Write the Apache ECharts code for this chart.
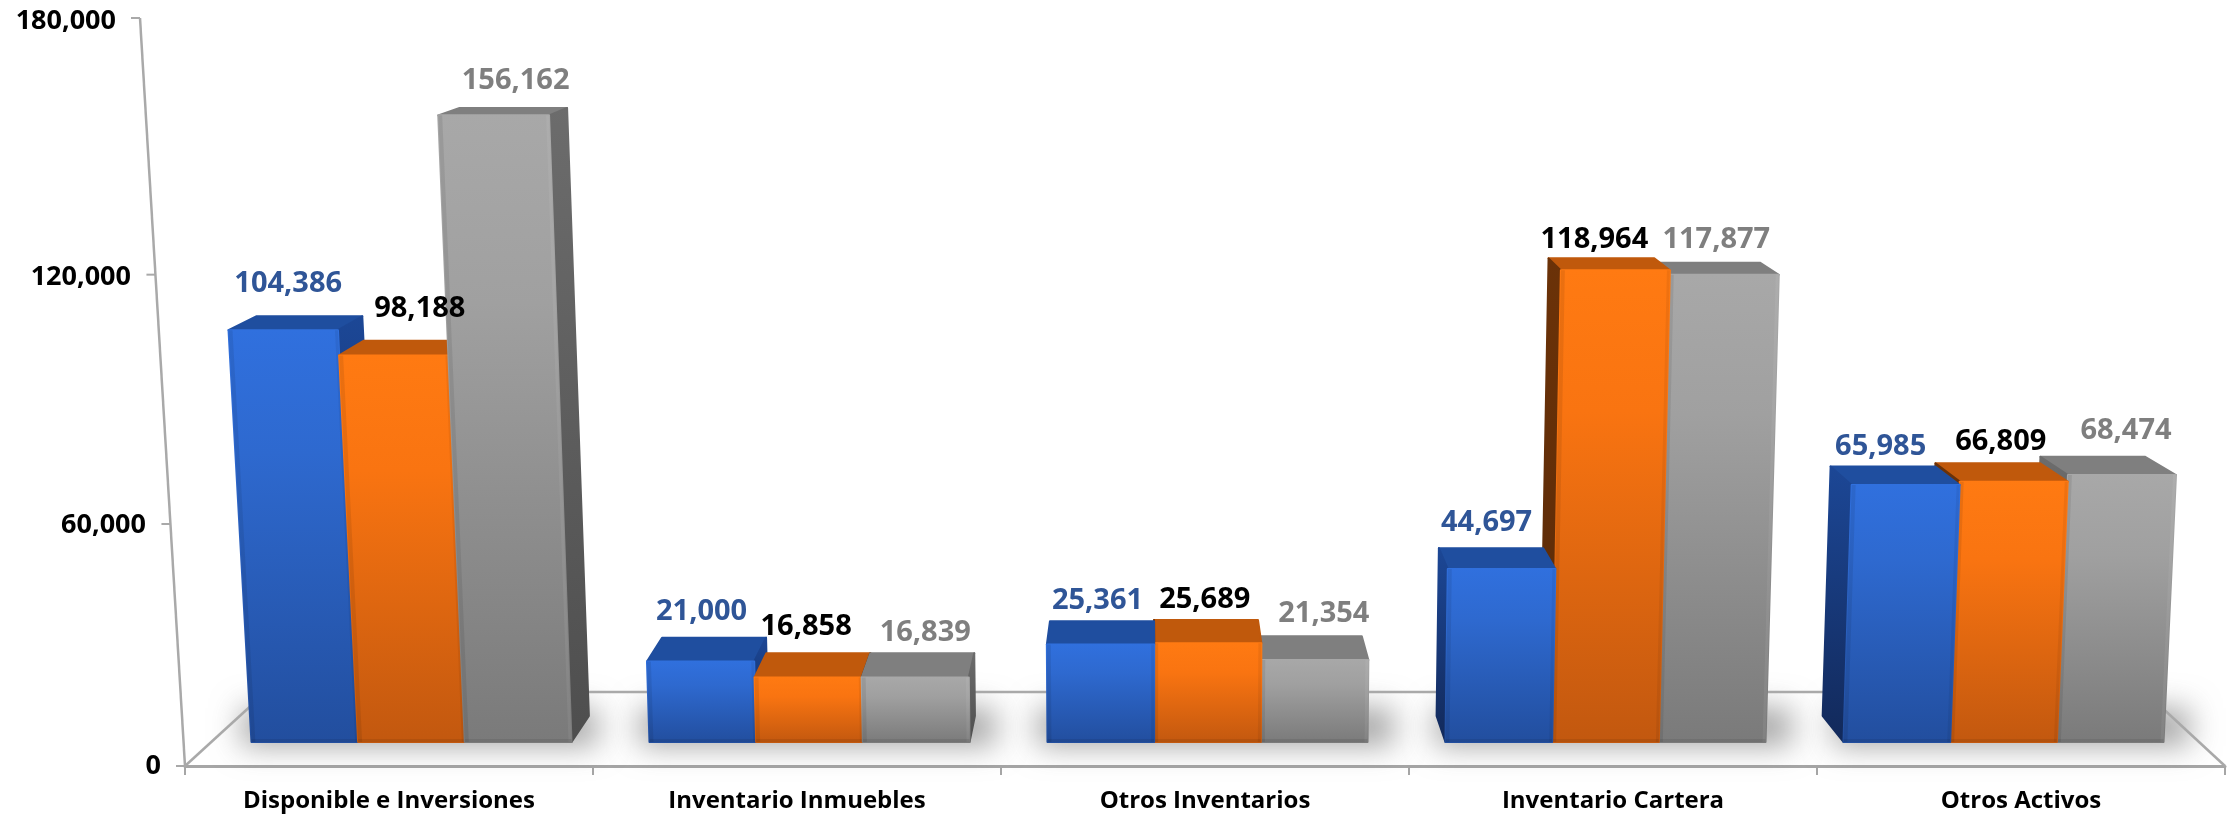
<!DOCTYPE html>
<html><head><meta charset="utf-8">
<style>html,body{margin:0;padding:0;background:#fff}#c{width:2236px;height:818px}</style>
<script src="https://cdn.jsdelivr.net/npm/echarts@6/dist/echarts.min.js"></script>
</head><body><div id="c"></div>
<script>
const categories = ['Disponible e Inversiones','Inventario Inmuebles','Otros Inventarios','Inventario Cartera','Otros Activos'];
const blueValues = [104386,21000,25361,44697,65985];
const orangeValues = [98188,16858,25689,118964,66809];
const greyValues = [156162,16839,21354,117877,68474];
const yTicks = [0,60000,120000,180000];

// perspective of the picture (px)
const FONT = '"Open Sans", "Noto Sans", sans-serif';
const XC = 1150, VY = -130, DEPTH = 0.03, LEAN_L = 6.2e-5, LEAN_R = 4.6e-5, BASE_C = 1307, BASE_F = 0.9755, BASE_UP = 24, BAR_F = 0.2615;
// hand placed data labels: offsets from the bar's front-top centre (x) and rear-top edge (y)
const labelDX = [[5,1,-3,-15,-25],[26,-2,-3,-21,-13],[22,10,9,-8,4]];
const labelDY = [[-33,-26,-21,-25,-20],[-32,-26,-20,-19,-22],[-27,-21,-23,-23,-26]];
const tickPad = {0:[0,16],60000:[18,31],120000:[20,46],180000:[6,61]};

const looks = [
 {front:['#3070DE','#2E69CF','#224E9E'],top:'#1F4E9F',side:['#1C4796','#12295A'],label:'#2F5597'},
 {front:['#FF7A12','#F97411','#C2580F'],top:'#C0590C',side:['#6B3208','#5A2A08'],label:'#000000'},
 {front:['#A8A8A8','#A0A0A0','#7A7A7A'],top:'#7F7F7F',side:['#6C6C6C','#4E4E4E'],label:'#7F7F7F'}
];
const fmt = v => Number(v).toLocaleString('en-US');
const grad = c => new echarts.graphic.LinearGradient(0,0,0,1,[{offset:0,color:c[0]},{offset:.3,color:c[1]},{offset:1,color:c[2]}]);
const grad2 = c => new echarts.graphic.LinearGradient(0,0,0,1,[{offset:0,color:c[0]},{offset:1,color:c[1]}]);

function heightOf(api, v){
  const y0 = api.coord([0,0])[1], y1 = api.coord([0,180000])[1];
  const t = (y0 - api.coord([0,v])[1])/(y0-y1);
  return t*(685.8+42.1*t);
}
function rear(p){ return [p[0]+DEPTH*(XC-p[0]), p[1]+DEPTH*(VY-p[1])]; }

function barItem(j, values){
  return function(params, api){
    const i = params.dataIndex, v = values[i];
    const cx = api.coord([i,v])[0], band = api.size([1,0])[0], w = band*BAR_F;
    const bx = BASE_C+(cx-BASE_C)*BASE_F, L = bx+(j-1.5)*w, R = L+w;
    const yb = api.coord([0,0])[1]-BASE_UP, h = heightOf(api,v);
    const at = (x,hh)=>[XC+(x-XC)*(1+(x<XC?LEAN_L:LEAN_R)*hh), yb-hh];
    const fbl=at(L,0), fbr=at(R,0), ftr=at(R,h), ftl=at(L,h);
    const z = Math.round(4000-Math.abs((L+R)/2-XC));
    const look = looks[j], kids = [];
    const poly=(pts,fill,st)=>({type:'polygon',z2:z,shape:{points:pts},
      style:st?{fill:fill,stroke:st,lineWidth:2,lineJoin:'round'}:{fill:fill}});
    const shift=(p,d)=>[p[0]+d,p[1]];
    kids.push(poly([ftl,ftr,rear(ftr),rear(ftl)],look.top,look.top));
    const sideFill=grad2(look.side);
    if(R<XC) kids.push(poly([ftr,rear(ftr),rear(fbr),fbr],sideFill,sideFill));
    if(L>XC) kids.push(poly([ftl,rear(ftl),rear(fbl),fbl],sideFill,sideFill));
    const ff=grad(look.front);
    kids.push(poly([ftl,ftr,fbr,fbl],ff,ff));
    // bevelled edges of the front face
    kids.push(poly([ftl,shift(ftl,4),shift(fbl,4),fbl],'rgba(0,0,0,0.08)'));
    kids.push(poly([ftr,shift(ftr,-3),shift(fbr,-3),fbr],j===2?'rgba(255,255,255,0.06)':'rgba(0,0,0,0.06)'));
    kids.push(poly([[fbl[0],fbl[1]-3],[fbr[0],fbr[1]-3],fbr,fbl],'rgba(0,0,0,0.08)'));
    kids.push({type:'text',z2:9000,style:{text:fmt(v),x:(ftl[0]+ftr[0])/2+labelDX[j][i],y:rear(ftl)[1]+labelDY[j][i],
      fill:look.label,font:'bold 29px '+FONT,align:'center',verticalAlign:'middle'}});
    return {type:'group',children:kids};
  };
}

function frameItem(params, api){
  const y0 = api.coord([0,0])[1], x0 = api.coord([0,0])[0], size=api.size([1,0])[0];
  const left = x0-size/2, right = left+size*categories.length;
  const C='#A9A9A9';
  const line=(a,b,w)=>({type:'line',z2:2,shape:{x1:a[0],y1:a[1],x2:b[0],y2:b[1]},style:{stroke:C,lineWidth:w||2.5}});
  const backY=y0-74, kids=[
    line([left,y0],[left+81,backY]), line([right,y0],[right-80,backY]), line([left+81,backY],[right-80,backY])
  ];
  const axisX = H => left-45*(H/748);
  yTicks.forEach(v=>{
    const y1=api.coord([0,180000])[1], t=(y0-api.coord([0,v])[1])/(y0-y1), H=t*(715+33*t);
    kids.push(line([axisX(H)-9,y0-H],[axisX(H),y0-H],2));
  });
  kids.push(line([axisX(0),y0],[axisX(748),y0-748]));
  categories.forEach((c,i)=>{
    const cx=api.coord([i,0])[0], bx=BASE_C+(cx-BASE_C)*BASE_F, w=size*BAR_F, OFF=3000;
    // soft floor shadow: the rect itself sits off the page, only its blur lands on the floor
    kids.push({type:'rect',z2:1,shape:{x:bx-1.5*w-10-OFF,y:y0-58,width:3*w+36,height:38},
      style:{fill:'#777',shadowBlur:30,shadowOffsetX:OFF,shadowColor:'rgba(110,110,110,0.62)'}});
  });
  return {type:'group',children:kids};
}

const chart = echarts.init(document.getElementById('c'));
const rich = {};
yTicks.forEach(v=>{ rich['t'+v]={fontFamily:FONT,fontWeight:'bold',fontSize:27,color:'#000',padding:[tickPad[v][0],tickPad[v][1],0,0]}; });
chart.setOption({
  animation:false,
  backgroundColor:'#fff',
  grid:{left:185,right:11,top:18,bottom:52,containLabel:false},
  xAxis:{type:'category',data:categories,
    axisLine:{lineStyle:{color:'#A6A6A6',width:3}},
    axisTick:{show:true,length:9,lineStyle:{color:'#A6A6A6',width:2}},
    axisLabel:{color:'#000',fontFamily:FONT,fontWeight:'bold',fontSize:24,margin:23,interval:0}},
  yAxis:{type:'value',min:0,max:180000,interval:60000,
    axisLine:{show:false},axisTick:{show:false},splitLine:{show:false},
    axisLabel:{margin:8,formatter:v=>`{t${v}|${fmt(v)}}`,rich:rich}},
  series:[
    {type:'custom',name:'frame',z:1,silent:true,clip:false,data:[0],renderItem:frameItem,encode:{x:-1,y:-1}},
    {type:'custom',name:'Serie 1',z:2,clip:false,data:blueValues.map((v,i)=>[i,v]),encode:{x:0,y:1},renderItem:barItem(0,blueValues)},
    {type:'custom',name:'Serie 2',z:2,clip:false,data:orangeValues.map((v,i)=>[i,v]),encode:{x:0,y:1},renderItem:barItem(1,orangeValues)},
    {type:'custom',name:'Serie 3',z:2,clip:false,data:greyValues.map((v,i)=>[i,v]),encode:{x:0,y:1},renderItem:barItem(2,greyValues)}
  ]
});
</script></body></html>
